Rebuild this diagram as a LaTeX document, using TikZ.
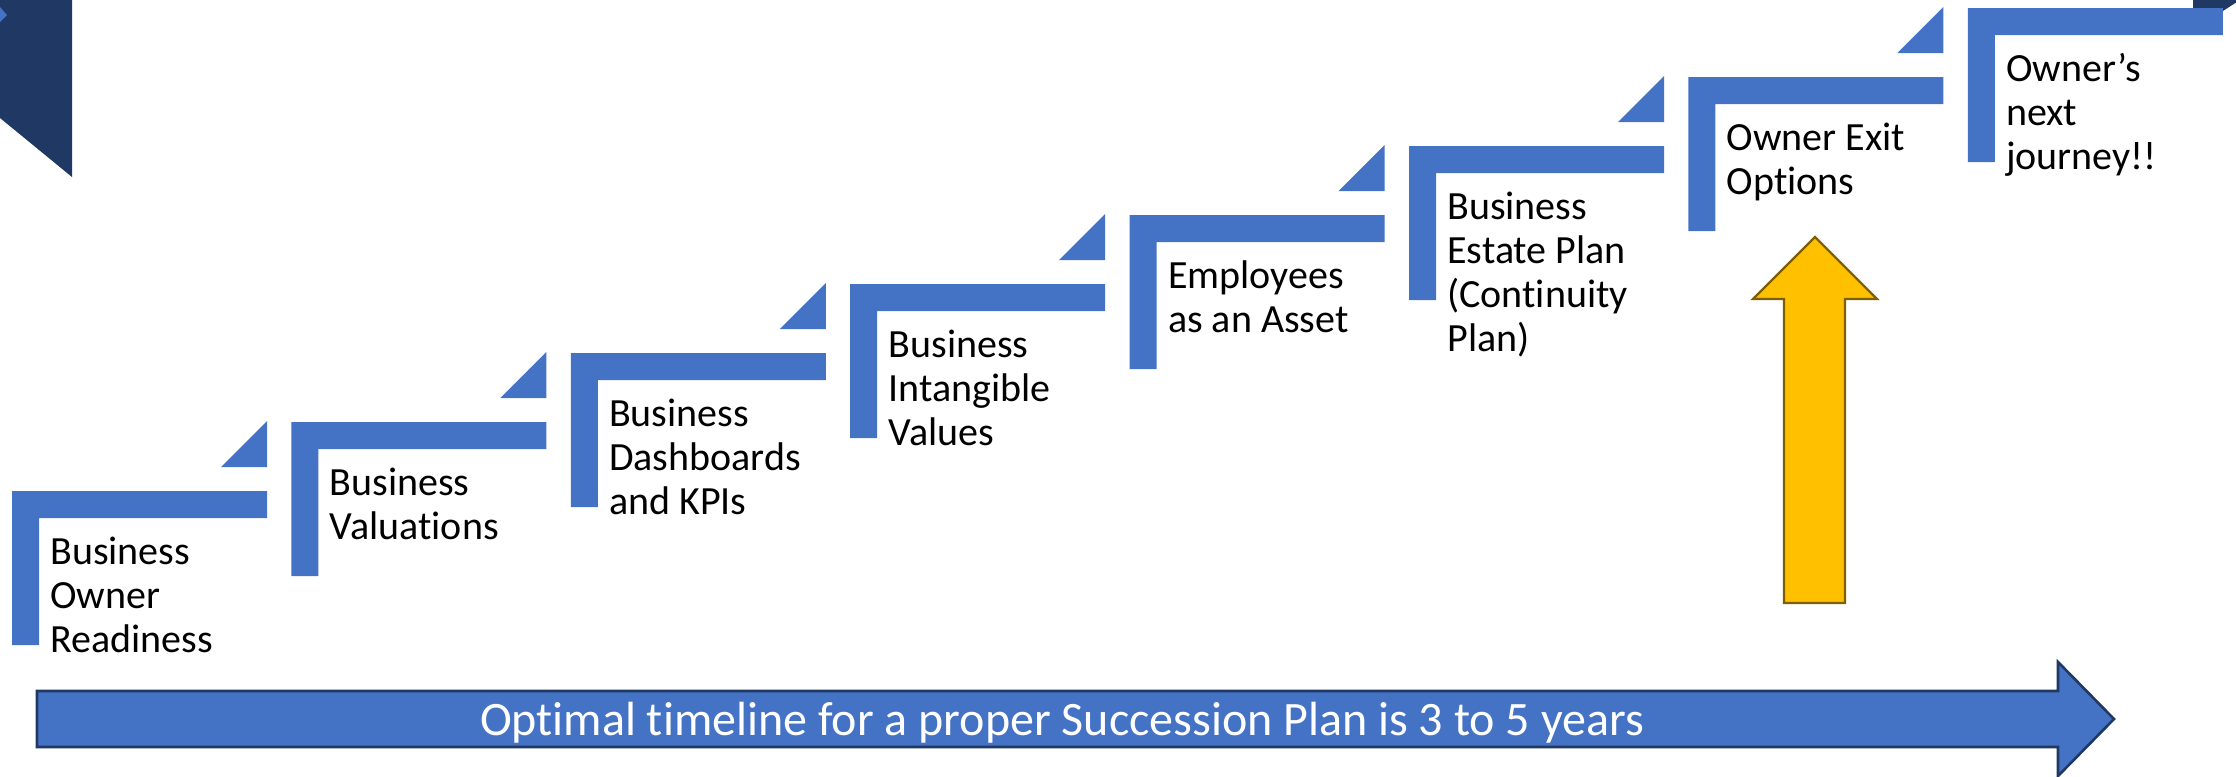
\documentclass[tikz,border=0pt]{standalone}
\usepackage{fontspec}
\setmainfont{Carlito}[Ligatures=NoCommon]
\usepackage{xcolor}
\definecolor{stepblue}{RGB}{68, 114, 196}
\definecolor{darknavy}{RGB}{31, 56, 100}
\definecolor{exitgold}{RGB}{255, 192, 0}
\definecolor{goldline}{RGB}{127, 96, 0}
\definecolor{arrowline}{RGB}{32, 56, 100}

\tikzset{
  steptext/.style={font=\fontsize{20}{22}\selectfont, align=left, inner sep=0pt, anchor=base west},
  timeline/.style={font=\fontsize{24}{28}\selectfont, text=white, inner sep=0pt, anchor=base}
}

\begin{document}
\begin{tikzpicture}[x=0.5pt, y=-0.5pt]
        \useasboundingbox (0,0) rectangle (2236,776);
        \clip (0,0) rectangle (2236,776);
        % corner pieces
        \fill[darknavy] (0,0) -- (72,0) -- (72,177) -- (0,118) -- cycle;
        \fill[stepblue] (0,7) -- (7,15) -- (0,22) -- cycle;
        \fill[darknavy] (2193,0) -- (2240,0) -- (2212,18) -- (2193,18) -- cycle;
        % steps (index / number of lines / text)
        \foreach \i/\n/\txt in {0/3/{Business\\Owner\\Readiness},
                                1/2/{Business\\Valuations},
                                2/3/{Business\\Dashboards\\and KPIs},
                                3/3/{Business\\Intangible\\Values},
                                4/2/{Employees\\as an Asset},
                                5/4/{Business\\Estate Plan\\(Continuity\\Plan)},
                                6/2/{Owner Exit\\Options},
                                7/3/{Owner’s\\next\\journey!!}} {
          \pgfmathsetmacro{\x}{12+279.4*\i}
          \pgfmathsetmacro{\y}{491-69*\i}
          \fill[stepblue] (\x,\y) -- ++(255,0) -- ++(0,27) -- ++(-228,0) -- ++(0,127) -- ++(-27,0) -- cycle;
          \fill[stepblue] (\x+209,\y-24) -- ++(46,-46) -- ++(0,46) -- cycle;
          \node[steptext] (step\i) at (\x+38,\y+73+44*\n-44) {\txt};
        }
        % exit arrow
        \filldraw[fill=exitgold, draw=goldline, line width=1.2pt]
              (1784,603) -- (1784,299) -- (1753,299) -- (1815,237) -- (1877,299) -- (1845,299) -- (1845,603) -- cycle;
        % timeline arrow
        \filldraw[fill=stepblue, draw=arrowline, line width=1.3pt]
              (37,691) -- (2058,691) -- (2058,662) -- (2114,719) -- (2058,776) -- (2058,747) -- (37,747) -- cycle;
        \node[timeline] (timeline) at (1062,735) {Optimal timeline for a proper Succession Plan is 3 to 5 years};
      \end{tikzpicture}
\end{document}
